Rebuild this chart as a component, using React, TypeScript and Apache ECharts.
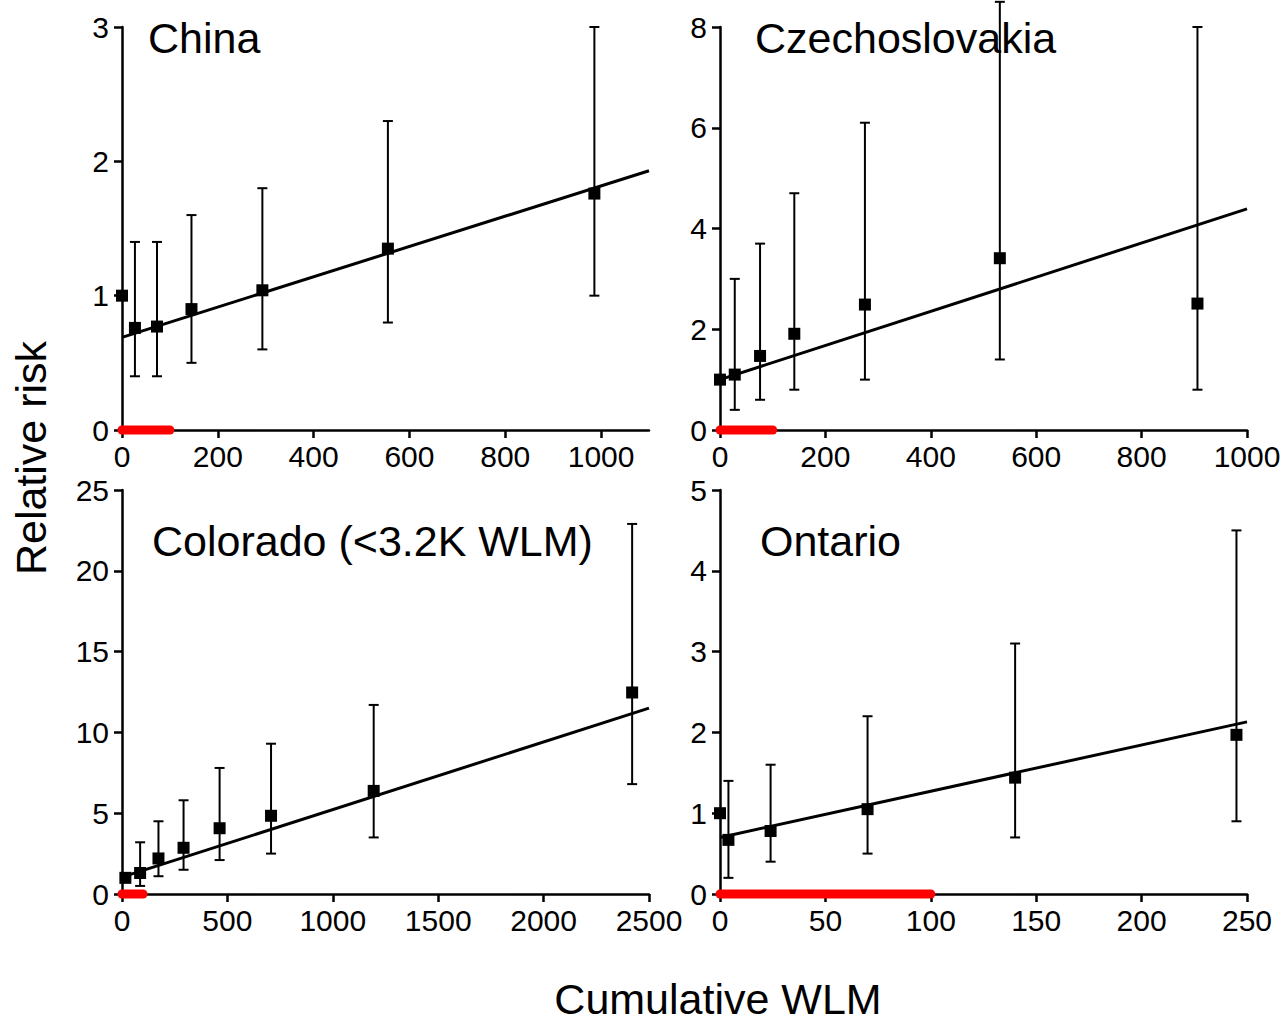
import React, { useEffect, useRef } from "react";
import * as echarts from "echarts";

// ---- Data ----
const panelTitles = ["China", "Czechoslovakia", "Colorado (<3.2K WLM)", "Ontario"];

// China
const chinaX = [0, 27, 73, 145, 293, 555, 986];
const chinaY = [1.0, 0.76, 0.77, 0.9, 1.04, 1.35, 1.76];
const chinaLow = [null, 0.4, 0.4, 0.5, 0.6, 0.8, 1.0];
const chinaHigh = [null, 1.4, 1.4, 1.6, 1.8, 2.3, 3.0];
const chinaFit = [[0, 0.69], [1100, 1.93]];

// Czechoslovakia
const czechX = [0, 28, 76, 141, 275, 531, 906];
const czechY = [1.0, 1.1, 1.47, 1.91, 2.49, 3.41, 2.51];
const czechLow = [null, 0.4, 0.6, 0.8, 1.0, 1.4, 0.8];
const czechHigh = [null, 3.0, 3.7, 4.7, 6.1, 8.5, 8.0];
const czechFit = [[0, 1.0], [1000, 4.39]];

// Colorado
const coloX = [16, 86, 173, 292, 463, 707, 1194, 2420];
const coloY = [1.0, 1.3, 2.2, 2.86, 4.07, 4.84, 6.38, 12.47];
const coloLow = [null, 0.5, 1.1, 1.5, 2.1, 2.5, 3.5, 6.8];
const coloHigh = [null, 3.2, 4.5, 5.8, 7.8, 9.3, 11.7, 22.9];
const coloFit = [[0, 1.04], [2500, 11.5]];

// Ontario
const ontX = [0, 4, 24, 70, 140, 245];
const ontY = [1.0, 0.67, 0.78, 1.05, 1.44, 1.97];
const ontLow = [null, 0.2, 0.4, 0.5, 0.7, 0.9];
const ontHigh = [null, 1.4, 1.6, 2.2, 3.1, 4.5];
const ontFit = [[0, 0.7], [250, 2.13]];

// Red segment (0–100 WLM) on each x axis
const redSeg = [[0, 0], [100, 0]];

// Axis ranges / ticks
const xMax = [1100, 1000, 2500, 250];
const xInterval = [200, 200, 500, 50];
const xTicks = [
  [0, 200, 400, 600, 800, 1000],
  [0, 200, 400, 600, 800, 1000],
  [0, 500, 1000, 1500, 2000, 2500],
  [0, 50, 100, 150, 200, 250],
];
const yMax = [3, 8, 25, 5];
const yInterval = [1, 2, 5, 1];

const FONT = "'Liberation Sans', Arial, Helvetica, sans-serif";

export default function App() {
  const ref = useRef<HTMLDivElement>(null);

  useEffect(() => {
    if (!ref.current) return;
    const chart = echarts.init(ref.current, undefined, { renderer: "svg" });

    const panels = [
      { x: chinaX, y: chinaY, lo: chinaLow, hi: chinaHigh, fit: chinaFit },
      { x: czechX, y: czechY, lo: czechLow, hi: czechHigh, fit: czechFit },
      { x: coloX, y: coloY, lo: coloLow, hi: coloHigh, fit: coloFit },
      { x: ontX, y: ontY, lo: ontLow, hi: ontHigh, fit: ontFit },
    ];

    const gridPos = [
      { left: 122, top: 27, width: 527, height: 403 },
      { left: 720, top: 27, width: 527, height: 403 },
      { left: 122, top: 490, width: 527, height: 404 },
      { left: 720, top: 490, width: 527, height: 404 },
    ];

    const axisLine = { lineStyle: { color: "#000", width: 2.5 } };
    const axisTick = { show: true, inside: false, length: 8, lineStyle: { color: "#000", width: 2.5 } };
    const plain = (v: number) => String(v);

    const xAxis = panels.map((_, i) => ({
      type: "value",
      gridIndex: i,
      min: 0,
      max: xMax[i],
      interval: xInterval[i],
      splitLine: { show: false },
      axisLine,
      axisTick: { ...axisTick, customValues: xTicks[i] },
      axisLabel: {
        customValues: xTicks[i],
        formatter: plain,
        color: "#000",
        fontSize: 30,
        fontFamily: FONT,
        margin: 11,
      },
    }));

    const yAxis = panels.map((_, i) => ({
      type: "value",
      gridIndex: i,
      min: 0,
      max: yMax[i],
      interval: yInterval[i],
      splitLine: { show: false },
      axisLine,
      axisTick,
      axisLabel: {
        formatter: plain,
        color: "#000",
        fontSize: 30,
        fontFamily: FONT,
        margin: 13,
      },
    }));

    const series: any[] = [];
    panels.forEach((p, i) => {
      // fit line
      series.push({
        type: "line",
        xAxisIndex: i,
        yAxisIndex: i,
        data: p.fit,
        symbol: "none",
        lineStyle: { color: "#000", width: 3 },
        z: 3,
        silent: true,
      });
      // error bars
      const ebData = p.x
        .map((xv, k) => (p.lo[k] == null ? null : [xv, p.lo[k], p.hi[k]]))
        .filter((d) => d != null);
      series.push({
        type: "custom",
        xAxisIndex: i,
        yAxisIndex: i,
        clip: false,
        data: ebData,
        encode: { x: 0, y: [1, 2] },
        z: 4,
        silent: true,
        renderItem: (params: any, api: any) => {
          const xv = api.value(0);
          const lo = api.coord([xv, api.value(1)]);
          const hi = api.coord([xv, api.value(2)]);
          const w = 5;
          const style = { stroke: "#000", lineWidth: 2 };
          return {
            type: "group",
            children: [
              { type: "line", shape: { x1: lo[0], y1: lo[1], x2: hi[0], y2: hi[1] }, style },
              { type: "line", shape: { x1: lo[0] - w, y1: lo[1], x2: lo[0] + w, y2: lo[1] }, style },
              { type: "line", shape: { x1: hi[0] - w, y1: hi[1], x2: hi[0] + w, y2: hi[1] }, style },
            ],
          };
        },
      });
      // points
      series.push({
        type: "scatter",
        xAxisIndex: i,
        yAxisIndex: i,
        data: p.x.map((xv, k) => [xv, p.y[k]]),
        symbol: "rect",
        symbolSize: 12,
        itemStyle: { color: "#000", opacity: 1 },
        z: 5,
        clip: false,
        silent: true,
      });
      // red segment
      series.push({
        type: "line",
        xAxisIndex: i,
        yAxisIndex: i,
        data: redSeg,
        symbol: "none",
        clip: false,
        lineStyle: { color: "#ff0000", width: 9, cap: "round" },
        z: 6,
        silent: true,
      });
    });

    const titlePos = [
      { left: 148, top: 38 },
      { left: 755, top: 38 },
      { left: 152, top: 541 },
      { left: 760, top: 541 },
    ];

    const graphic: any[] = panelTitles.map((t, i) => ({
      type: "text",
      x: titlePos[i].left,
      y: titlePos[i].top,
      style: {
        text: t,
        fill: "#000",
        font: `43px ${FONT}`,
        verticalAlign: "middle",
        align: "left",
      },
    }));
    graphic.push({
      type: "text",
      x: 31,
      y: 458,
      rotation: Math.PI / 2,
      style: {
        text: "Relative risk",
        fill: "#000",
        font: `43px ${FONT}`,
        align: "center",
        verticalAlign: "middle",
      },
    });
    graphic.push({
      type: "text",
      x: 718,
      y: 999,
      style: {
        text: "Cumulative WLM",
        fill: "#000",
        font: `43px ${FONT}`,
        align: "center",
        verticalAlign: "middle",
      },
    });

    chart.setOption({
      animation: false,
      backgroundColor: "#fff",
      grid: gridPos.map((g) => ({ ...g, containLabel: false })),
      xAxis,
      yAxis,
      series,
      graphic,
    });

    return () => chart.dispose();
  }, []);

  return (
    <div
      ref={ref}
      style={{ position: "fixed", left: 0, top: 0, width: 1286, height: 1022, background: "#fff" }}
    />
  );
}
